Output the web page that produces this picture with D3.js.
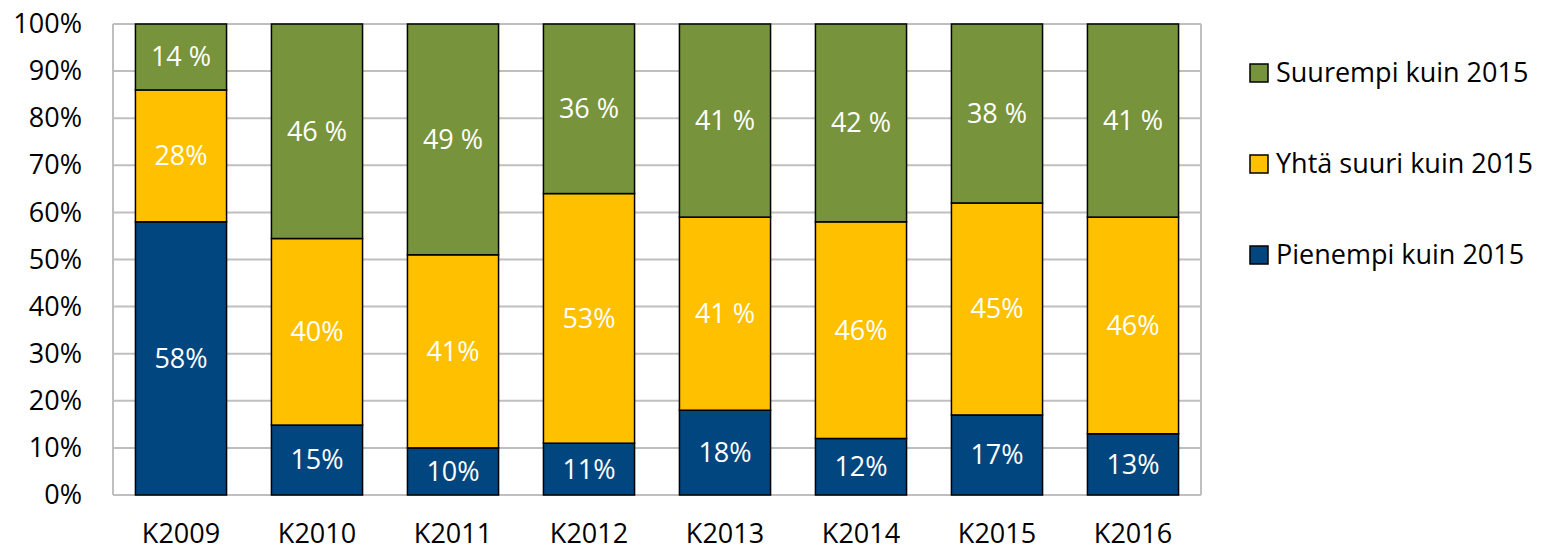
<!DOCTYPE html>
<html>
<head>
<meta charset="utf-8">
<script src="https://cdn.jsdelivr.net/npm/d3@7"></script>
<style>
  body { margin: 0; background: #fff; }
  text { font-family: "Open Sans", sans-serif; }
</style>
</head>
<body>
<div id="chart"></div>
<script>
// Data
var categories = ["K2009", "K2010", "K2011", "K2012", "K2013", "K2014", "K2015", "K2016"];
var pienempi = [58, 15, 10, 11, 18, 12, 17, 13];
var yhta = [28, 40, 41, 53, 41, 46, 45, 46];
var suurempi = [14, 46, 49, 36, 41, 42, 38, 41];

var pienempiLabels = ["58%", "15%", "10%", "11%", "18%", "12%", "17%", "13%"];
var yhtaLabels = ["28%", "40%", "41%", "53%", "41 %", "46%", "45%", "46%"];
var suurempiLabels = ["14 %", "46 %", "49 %", "36 %", "41 %", "42 %", "38 %", "41 %"];

var seriesNames = ["Pienempi kuin 2015", "Yhtä suuri kuin 2015", "Suurempi kuin 2015"];
var seriesColors = ["#02467F", "#FFC000", "#77933C"];
var yTicks = [0, 0.1, 0.2, 0.3, 0.4, 0.5, 0.6, 0.7, 0.8, 0.9, 1];

var svgWidth = 1541;
var svgHeight = 550;
var fontSize = 27;

var margin = { top: 24, right: 340, bottom: 55, left: 113 };
var width = 1201 - margin.left;
var height = 495 - margin.top;

var svg = d3.select("#chart")
  .append("svg")
  .attr("width", svgWidth)
  .attr("height", svgHeight);

var chartGroup = svg.append("g")
  .attr("transform", `translate(${margin.left}, ${margin.top})`);

// Build rows for the stack
var keys = ["pienempi", "yhta", "suurempi"];
var labelSets = [pienempiLabels, yhtaLabels, suurempiLabels];
var rows = categories.map((c, i) => ({
  cat: c,
  pienempi: pienempi[i],
  yhta: yhta[i],
  suurempi: suurempi[i]
}));

var stacked = d3.stack()
  .keys(keys)
  .offset(d3.stackOffsetExpand)(rows);

// Scales
var xScale = d3.scaleBand()
  .domain(categories)
  .range([0, width])
  .paddingInner(0.33)
  .paddingOuter(0.165);

var yScale = d3.scaleLinear()
  .domain([0, 1])
  .range([height, 0]);

// Gridlines
chartGroup.append("g")
  .selectAll("line")
  .data(yTicks)
  .enter()
  .append("line")
  .attr("x1", 0)
  .attr("x2", width)
  .attr("y1", d => yScale(d))
  .attr("y2", d => yScale(d))
  .attr("stroke", "#BFBFBF")
  .attr("stroke-width", 2);

// Plot box sides
chartGroup.append("line")
  .attr("x1", 0).attr("x2", 0)
  .attr("y1", 0).attr("y2", height)
  .attr("stroke", "#BFBFBF").attr("stroke-width", 2);
chartGroup.append("line")
  .attr("x1", width).attr("x2", width)
  .attr("y1", 0).attr("y2", height)
  .attr("stroke", "#BFBFBF").attr("stroke-width", 2);

// Y axis
var leftAxis = d3.axisLeft(yScale)
  .tickValues(yTicks)
  .tickFormat(d3.format(".0%"))
  .tickSize(0)
  .tickPadding(31);

chartGroup.append("g")
  .call(leftAxis)
  .call(g => g.select(".domain").remove())
  .selectAll("text")
  .attr("font-size", fontSize)
  .attr("fill", "#000")
  .style("font-family", "'Open Sans', sans-serif");

// X axis
var bottomAxis = d3.axisBottom(xScale).tickSize(0).tickPadding(29);

chartGroup.append("g")
  .attr("transform", `translate(0, ${height})`)
  .call(bottomAxis)
  .call(g => g.select(".domain").remove())
  .selectAll("text")
  .attr("font-size", fontSize)
  .attr("fill", "#000")
  .style("font-family", "'Open Sans', sans-serif");

// Bars
var layers = chartGroup.selectAll(".layer")
  .data(stacked)
  .enter()
  .append("g")
  .attr("class", "layer")
  .attr("fill", (d, i) => seriesColors[i]);

layers.selectAll("rect")
  .data(d => d)
  .enter()
  .append("rect")
  .attr("x", d => xScale(d.data.cat))
  .attr("y", d => yScale(d[1]))
  .attr("width", xScale.bandwidth())
  .attr("height", d => yScale(d[0]) - yScale(d[1]))
  .attr("stroke", "#000")
  .attr("stroke-width", 1.5);

// Value labels
stacked.forEach((layer, li) => {
  chartGroup.append("g")
    .selectAll("text")
    .data(layer)
    .enter()
    .append("text")
    .attr("x", d => xScale(d.data.cat) + xScale.bandwidth() / 2)
    .attr("y", d => yScale((d[0] + d[1]) / 2))
    .attr("dy", "0.35em")
    .attr("text-anchor", "middle")
    .attr("font-size", fontSize)
    .attr("fill", "#fff")
    .text((d, i) => labelSets[li][i]);
});

// Legend
var legendOrder = [2, 1, 0];
var legendY = [73, 164, 255];
var legend = svg.append("g");

legendOrder.forEach((s, i) => {
  legend.append("rect")
    .attr("x", 1250)
    .attr("y", legendY[i] - 9)
    .attr("width", 18)
    .attr("height", 18)
    .attr("fill", seriesColors[s])
    .attr("stroke", "#000")
    .attr("stroke-width", 1.5);
  legend.append("text")
    .attr("x", 1276)
    .attr("y", legendY[i])
    .attr("dy", "0.35em")
    .attr("font-size", fontSize)
    .attr("fill", "#000")
    .text(seriesNames[s]);
});
</script>
</body>
</html>
